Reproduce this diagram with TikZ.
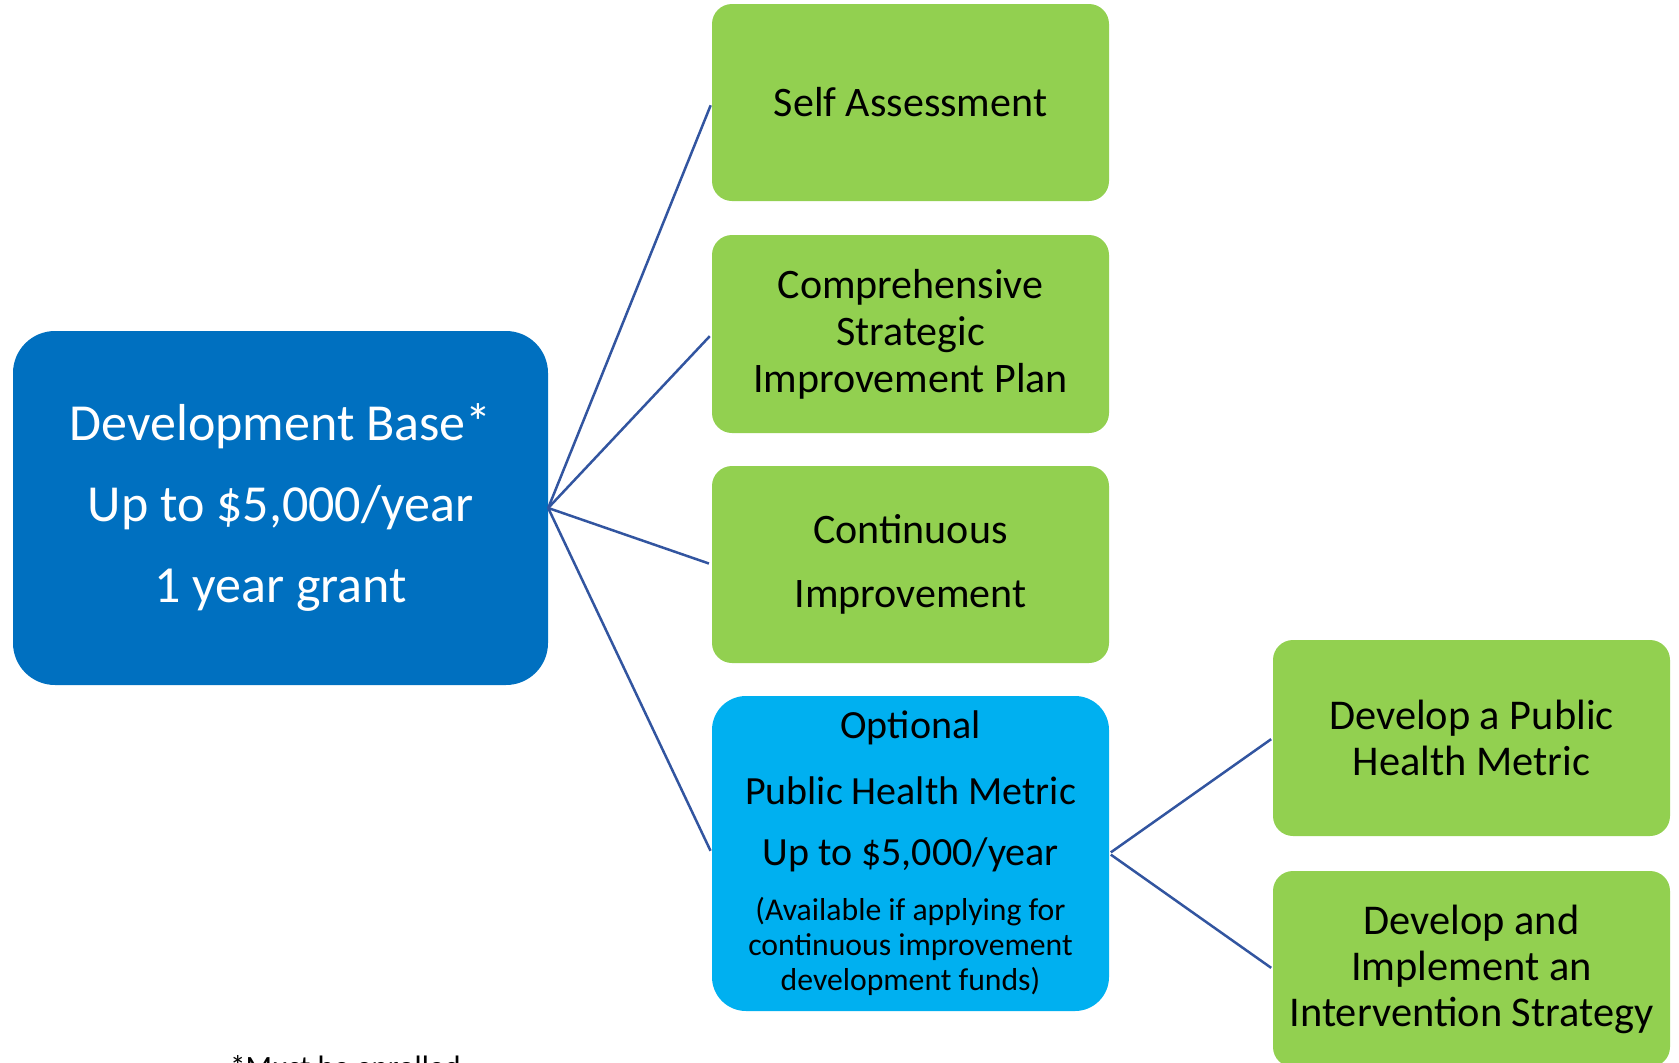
\documentclass[tikz,border=0pt]{standalone}
\usepackage{fontspec}
\setmainfont{Carlito}
\definecolor{baseblue}{RGB}{0,112,192}
\definecolor{boxgreen}{RGB}{146,208,80}
\definecolor{optblue}{RGB}{0,176,240}
\definecolor{linkblue}{RGB}{50,85,160}
\begin{document}
\begin{tikzpicture}[x=1pt,y=-1pt,
  box/.style={rectangle, rounded corners=#1, inner sep=0pt, align=center},
  greenbox/.style={box=20pt, fill=boxgreen, text=black, minimum width=397pt, minimum height=197pt,
    font=\fontsize{42}{47}\selectfont},
  link/.style={draw=linkblue, line width=2.5pt}]
\useasboundingbox (0,0) rectangle (1679,1063);

\node[box=42pt, fill=baseblue, text=white, minimum width=535pt, minimum height=354pt,
  font=\fontsize{52}{81}\selectfont] (base) at (280.5,508)
  {Development Base*\\Up to \$5,000/year\\1 year grant};

\node[greenbox] (self) at (910.5,102.5) {Self Assessment};
\node[greenbox, minimum height=198pt] (comp) at (910.5,334) {Comprehensive\\Strategic\\Improvement Plan};
\node[greenbox, font=\fontsize{42}{64.5}\selectfont] (cont) at (910.5,564.5) {Continuous\\Improvement};
\node[box=34pt, fill=optblue, text=black, minimum width=397pt, minimum height=315pt, text width=390pt,
  font=\fontsize{40}{61}\selectfont] (opt) at (910.5,853.5)
  {\spaceskip=0pt\xspaceskip=0pt\centering\vspace{5pt}Optional\par Public Health Metric\par Up to \$5,000/year\par
   \vspace{20pt}\fontsize{31.7}{35}\selectfont (Available if applying for\par continuous improvement\par development funds)\par};

\node[greenbox, minimum height=196pt, font=\fontsize{42.4}{46}\selectfont] (dpub) at (1471.5,738) {Develop a Public\\Health Metric};
\node[greenbox, minimum height=196pt, font=\fontsize{42.4}{46}\selectfont] (dimp) at (1471.5,969) {Develop and\\Implement an\\Intervention Strategy};

\node[anchor=base west, inner sep=0pt, font=\fontsize{31}{35}\selectfont] (note) at (230,1077) {*Must be enrolled};

\draw[link, shorten >=3pt] (base.east) -- (self.west);
\draw[link, shorten >=3pt] (base.east) -- (comp.west);
\draw[link, shorten >=3pt] (base.east) -- (cont.west);
\draw[link, shorten >=3pt] (base.east) -- (opt.west);
\draw[link, shorten <=2pt, shorten >=2pt] (opt.east) -- (dpub.west);
\draw[link, shorten <=2pt, shorten >=2pt] (opt.east) -- (dimp.west);
\end{tikzpicture}
\end{document}
